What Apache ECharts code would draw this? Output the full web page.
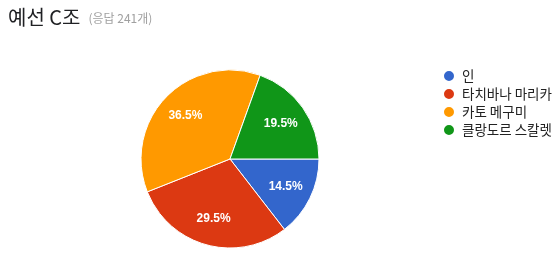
<!DOCTYPE html>
<html><head><meta charset="utf-8">
<script src="https://cdn.jsdelivr.net/npm/echarts@6/dist/echarts.min.js"></script>
<style>html,body{margin:0;padding:0;background:#fff}#c{width:553px;height:257px}</style>
</head><body><div id="c"></div>
<script>
const categories = ["인", "타치바나 마리카", "카토 메구미", "클랑도르 스칼렛"];
const counts = [35, 71, 88, 47];
const colors = ["#3366cc", "#dc3912", "#ff9900", "#109618"];
const titleText = "예선 C조";
const subText = "(응답 241개)";

const data = categories.map((n, i) => ({ name: n, value: counts[i], itemStyle: { color: colors[i] } }));
const labelData = categories.map((n, i) => ({ name: n, value: counts[i], itemStyle: { color: 'rgba(0,0,0,0)' } }));
const total = counts.reduce((a, b) => a + b, 0);

const chart = echarts.init(document.getElementById('c'), null, { renderer: 'canvas' });
chart.setOption({
  animation: false,
  title: {
    left: 3, top: 2,
    text: '{a|' + titleText + '} {b|' + subText + '}',
    textStyle: {
      fontWeight: 'normal',
      rich: {
        a: { fontSize: 20, fontWeight: 'normal', color: '#202124', fontFamily: 'Noto Sans CJK KR, Arial, sans-serif' },
        b: { fontSize: 12, fontWeight: 'normal', color: '#a0a0a0', fontFamily: 'Noto Sans CJK KR, Arial, sans-serif', padding: [3, 0, 0, 3] }
      }
    }
  },
  legend: {
    orient: 'vertical', left: 442, top: 69, padding: 0,
    icon: 'circle', itemWidth: 12, itemHeight: 12, itemGap: 4,
    textStyle: { fontSize: 13.5, color: '#222', padding: [0, 0, 0, 2], fontFamily: 'Noto Sans CJK KR, Arial, sans-serif' },
    data: categories
  },
  series: [
    {
      type: 'pie', center: [230, 159], radius: [0, 89],
      startAngle: 0, clockwise: true,
      itemStyle: { borderColor: '#fff', borderWidth: 1 },
      label: { show: false }, labelLine: { show: false },
      emphasis: { disabled: true }, silent: true,
      data: data
    },
    {
      type: 'pie', center: [230, 159], radius: [29, 89],
      startAngle: 0, clockwise: true,
      legendHoverLink: false,
      label: {
        show: true, position: 'inside', color: '#fff', fontWeight: 'bold', fontSize: 12,
        fontFamily: 'Arial, Liberation Sans, sans-serif',
        formatter: p => (p.value / total * 100).toFixed(1) + '%'
      },
      labelLine: { show: false },
      emphasis: { disabled: true }, silent: true,
      data: labelData
    }
  ]
});
</script></body></html>
